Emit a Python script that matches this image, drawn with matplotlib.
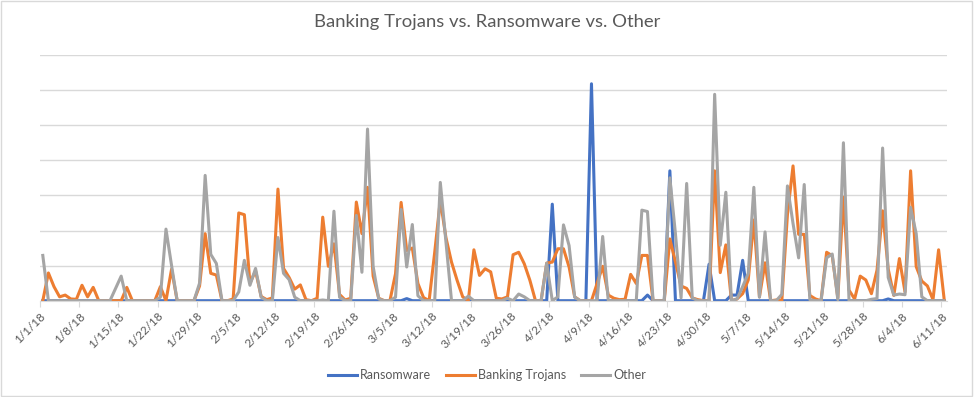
import numpy as np
import matplotlib
matplotlib.use("Agg")
import matplotlib.pyplot as plt
from matplotlib.patches import Rectangle

plt.rcParams['font.family'] = ['Lato', 'DejaVu Sans']

# daily values, 1/1/18 .. 6/11/18 (162 days)
ransomware = [0] * 162
ransomware[65] = 0.6
ransomware[91] = 27.5
ransomware[98] = 61.8
ransomware[108] = 1.6
ransomware[112] = 37
ransomware[119] = 10.4
ransomware[123] = 1.6
ransomware[124] = 1.6
ransomware[125] = 11.5
ransomware[151] = 0.5

banking = [
    0, 7.9, 4, 1.1, 1.6, 0.5, 0.4, 4.4, 1.1, 3.8,
    0, 0, 0, 0, 0, 3.8, 0, 0, 0, 0,
    0, 4, 0, 9, 0, 0, 0, 0, 4.2, 19.1,
    7.8, 7.3, 0, 0, 0.5, 25, 24.5, 5, 8.5, 1.2,
    0.3, 0.8, 31.8, 9.2, 6.6, 3.3, 4.5, 0.3, 0, 0.7,
    23.8, 9.8, 16.2, 1.8, 0.2, 0.7, 28.1, 19.1, 32.3, 7,
    0.7, 0, 0, 7.7, 28, 14.3, 15, 4.9, 0.9, 0,
    13.8, 28.7, 18, 11, 5.8, 1.1, 0, 14.5, 7.2, 9.1,
    8.2, 0.7, 0.5, 1.1, 13.1, 13.8, 10.5, 5.8, 0, 0,
    10.7, 11, 14.8, 14.8, 9.6, 1.1, 0, 0, 0, 4.9,
    9.8, 1.6, 0.7, 0.3, 0.4, 7.5, 4.9, 12.9, 12.9, 0,
    0, 0, 17.6, 11, 4.2, 3.5, 0.8, 0.3, 0, 0,
    37, 8, 15.9, 0, 0.5, 2, 5.9, 23, 1.1, 10.8,
    0, 0.2, 0, 24.5, 38.4, 18.9, 18.9, 1.5, 0.5, 0,
    13.8, 12.8, 0.8, 29.5, 3, 0.5, 7, 5.9, 2, 8.7,
    25.6, 9, 1.5, 12, 2.5, 37, 9.7, 5.6, 4.2, 0.3,
    14.5, 0.3,
]

other = [
    12.9, 0, 0, 0, 0, 0, 0, 0, 0, 0,
    0, 0, 0, 3.5, 7, 0, 0, 0, 0, 0,
    0, 1, 20.4, 10, 0, 0, 0, 0, 5, 35.7,
    13.2, 10.6, 0, 0, 0, 2.5, 11.5, 4.4, 9.2, 1,
    0, 0, 18, 7.8, 6, 1, 0, 0, 0, 0,
    0.2, 0, 25.5, 1, 0, 0, 24.3, 8.1, 48.9, 9.8,
    0.5, 0, 0, 1, 26, 9.6, 21.7, 1.4, 0, 0,
    0, 33.7, 16.8, 0, 0, 0, 1.3, 0, 0, 0,
    0, 0, 0, 0.7, 0, 1.9, 1.1, 0, 0, 0,
    10.7, 0, 1.1, 21.6, 15.7, 1, 0, 0, 0, 0,
    18.3, 0, 0, 0, 0, 0, 0, 25.8, 25.4, 0,
    0, 0, 35, 19, 0.8, 33.4, 0.8, 0, 0, 0,
    58.8, 15.8, 30.9, 0, 0.5, 4, 7.8, 32.3, 1, 19.6,
    0, 0, 1.8, 32.7, 22, 12.2, 33.1, 0.3, 0, 0,
    12.2, 13.3, 0.3, 45, 0, 0, 0, 0, 0.4, 0.6,
    43.5, 6.6, 1.6, 1.9, 1.7, 26.6, 19.1, 1.1, 0, 0,
    0, 0,
]

tick_labels = ['1/1/18', '1/8/18', '1/15/18', '1/22/18', '1/29/18', '2/5/18',
               '2/12/18', '2/19/18', '2/26/18', '3/5/18', '3/12/18', '3/19/18',
               '3/26/18', '4/2/18', '4/9/18', '4/16/18', '4/23/18', '4/30/18',
               '5/7/18', '5/14/18', '5/21/18', '5/28/18', '6/4/18', '6/11/18']

text_col = '#595959'
grid_col = '#D9D9D9'

fig = plt.figure(figsize=(9.74, 3.97), dpi=100)
ax = fig.add_axes([40 / 974, 1 - 300.7 / 397, 907 / 974, 245.7 / 397])

x = np.arange(len(banking))
ax.plot(x, ransomware, color='#4472C4', lw=2.2, label='Ransomware', solid_joinstyle='round')
ax.plot(x, banking, color='#ED7D31', lw=2.2, label='Banking Trojans', solid_joinstyle='round')
ax.plot(x, other, color='#A5A5A5', lw=2.2, label='Other', solid_joinstyle='round')

ax.set_xlim(-0.5, len(x) - 0.5)
ax.set_ylim(0, 70)
ax.set_yticks(np.arange(0, 71, 10))
ax.yaxis.grid(True, color=grid_col, lw=1)
ax.set_axisbelow(True)
ax.tick_params(axis='y', length=0, labelleft=False)

ax.set_xticks(np.arange(0, len(x), 7) - 0.5)
ax.set_xticklabels(tick_labels, rotation=45, ha='right', rotation_mode='anchor',
                   fontsize=8.5, color=text_col)
ax.tick_params(axis='x', length=4, color=grid_col, pad=3)

for s in ['top', 'right', 'left']:
    ax.spines[s].set_visible(False)
ax.spines['bottom'].set_color(grid_col)

fig.text(0.5, 1 - 22 / 397, 'Banking Trojans vs. Ransomware vs. Other',
         ha='center', va='center', fontsize=13.3, color=text_col)

fig.legend(loc='center', bbox_to_anchor=(0.5, 1 - 375 / 397), ncol=3, frameon=False,
           fontsize=9, labelcolor=text_col, handlelength=2.3, columnspacing=1.2,
           handletextpad=0.25)

fig.patches.append(Rectangle((0.001, 0.002), 0.997, 0.996, transform=fig.transFigure,
                             fill=False, edgecolor=grid_col, lw=1))

fig.savefig('out.png', dpi=100)
